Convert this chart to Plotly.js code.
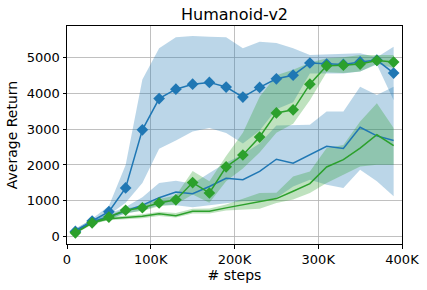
<!DOCTYPE html>
<html>
<head>
<meta charset="utf-8">
<script src="https://cdn.plot.ly/plotly-3.0.1.min.js"></script>
<style>html,body{margin:0;padding:0;background:#fff;}#chart{width:427px;height:290px;}</style>
</head>
<body>
<div id="chart"></div>
<script>
const steps = [10000, 30000, 50000, 70000, 90000, 110000, 130000, 150000, 170000, 190000, 210000, 230000, 250000, 270000, 290000, 310000, 330000, 350000, 370000, 390000];

// Blue with diamonds
const blueDiaMean = [150, 440, 700, 1360, 2980, 3850, 4110, 4250, 4300, 4170, 3890, 4160, 4400, 4500, 4840, 4810, 4800, 4870, 4920, 4560];
const blueDiaLow  = [100, 380, 610, 950, 1500, 2450, 2680, 2930, 3030, 2890, 2600, 2950, 3550, 3750, 4550, 4560, 4550, 4600, 4800, 3800];
const blueDiaHigh = [210, 500, 860, 2000, 4380, 5250, 5560, 5590, 5570, 5560, 5250, 5430, 5400, 5250, 5060, 5080, 5110, 5110, 5000, 5290];

// Green with diamonds
const greenDiaMean = [110, 390, 550, 740, 810, 944, 1030, 1510, 1220, 1950, 2278, 2778, 3450, 3536, 4250, 4760, 4780, 4810, 4910, 4865];
const greenDiaLow  = [80, 340, 490, 660, 720, 850, 900, 1180, 950, 1550, 1900, 2350, 2900, 3150, 3800, 4580, 4560, 4600, 4820, 4700];
const greenDiaHigh = [140, 430, 600, 790, 870, 1050, 1150, 1830, 1550, 2250, 2900, 3900, 4500, 4650, 4850, 4970, 5000, 5060, 5060, 5060];

// Blue plain
const bluePlainMean = [170, 420, 560, 720, 880, 1090, 1250, 1200, 1400, 1630, 1590, 1820, 2160, 2050, 2290, 2520, 2460, 3050, 2810, 2680];
const bluePlainLow  = [120, 370, 490, 640, 740, 880, 880, 820, 880, 940, 990, 1000, 1080, 1400, 1590, 1450, 1360, 1870, 1550, 1130];
const bluePlainHigh = [230, 480, 640, 830, 1100, 1500, 1560, 1480, 1780, 2060, 2300, 2600, 3100, 3100, 3120, 3490, 3490, 4180, 3950, 4180];

// Green plain
const greenPlainMean = [140, 400, 500, 530, 570, 640, 590, 710, 710, 806, 897, 989, 1064, 1267, 1481, 1944, 2147, 2472, 2842, 2536];
const greenPlainLow  = [100, 360, 460, 480, 520, 580, 540, 650, 650, 730, 760, 780, 940, 1040, 1220, 1500, 1730, 1960, 2010, 2010];
const greenPlainHigh = [180, 440, 550, 580, 630, 700, 660, 780, 790, 900, 1050, 1220, 1230, 1680, 1820, 2470, 2560, 3210, 3720, 3030];

const xTickVals = [0, 100000, 200000, 300000, 400000];
const xTickText = ['0', '100K', '200K', '300K', '400K'];
const yTickVals = [0, 1000, 2000, 3000, 4000, 5000];

const BLUE = '#1f77b4', GREEN = '#2ca02c';
const BLUE_FILL = 'rgba(31,119,180,0.3)', GREEN_FILL = 'rgba(44,160,44,0.3)';

function band(low, high, fillColor) {
  return [
    {x: steps, y: low, type: 'scatter', mode: 'lines', line: {width: 0, color: fillColor}, hoverinfo: 'skip', showlegend: false},
    {x: steps, y: high, type: 'scatter', mode: 'lines', line: {width: 0, color: fillColor}, fill: 'tonexty', fillcolor: fillColor, hoverinfo: 'skip', showlegend: false}
  ];
}

const traces = [].concat(
  band(blueDiaLow, blueDiaHigh, BLUE_FILL),
  band(bluePlainLow, bluePlainHigh, BLUE_FILL),
  band(greenDiaLow, greenDiaHigh, GREEN_FILL),
  band(greenPlainLow, greenPlainHigh, GREEN_FILL),
  [
    {x: steps, y: bluePlainMean, type: 'scatter', mode: 'lines', line: {color: BLUE, width: 1.5}, showlegend: false},
    {x: steps, y: greenPlainMean, type: 'scatter', mode: 'lines', line: {color: GREEN, width: 1.5}, showlegend: false},
    {x: steps, y: blueDiaMean, type: 'scatter', mode: 'lines+markers', line: {color: BLUE, width: 1.5}, marker: {symbol: 'diamond', size: 9, color: BLUE}, showlegend: false},
    {x: steps, y: greenDiaMean, type: 'scatter', mode: 'lines+markers', line: {color: GREEN, width: 1.5}, marker: {symbol: 'diamond', size: 9, color: GREEN}, showlegend: false}
  ]
);

const axisCommon = {
  showline: true, linecolor: '#000', linewidth: 1, mirror: true,
  ticks: 'outside', ticklen: 3.5, tickwidth: 1, tickcolor: '#000',
  showgrid: true, gridcolor: '#b0b0b0', gridwidth: 0.8, zeroline: false,
  tickfont: {family: 'DejaVu Sans', size: 13, color: '#000'}
};

const layout = {
  width: 427, height: 290,
  margin: {l: 67, r: 25, t: 26, b: 45.5},
  paper_bgcolor: '#fff', plot_bgcolor: '#fff',
  showlegend: false,
  title: {text: 'Humanoid-v2', font: {family: 'DejaVu Sans', size: 16, color: '#000'}, xref: 'paper', x: 0.5, xanchor: 'center', yref: 'container', y: 1 - 14/290, yanchor: 'middle'},
  xaxis: Object.assign({}, axisCommon, {
    range: [0, 400000], tickvals: xTickVals, ticktext: xTickText,
    title: {text: '# steps', font: {family: 'DejaVu Sans', size: 14, color: '#000'}, standoff: 3}
  }),
  yaxis: Object.assign({}, axisCommon, {
    range: [-200, 5870], tickvals: yTickVals,
    title: {text: 'Average Return', font: {family: 'DejaVu Sans', size: 14, color: '#000'}, standoff: 5}
  })
};

Plotly.newPlot('chart', traces, layout, {displayModeBar: false, staticPlot: true});
</script>
</body>
</html>
